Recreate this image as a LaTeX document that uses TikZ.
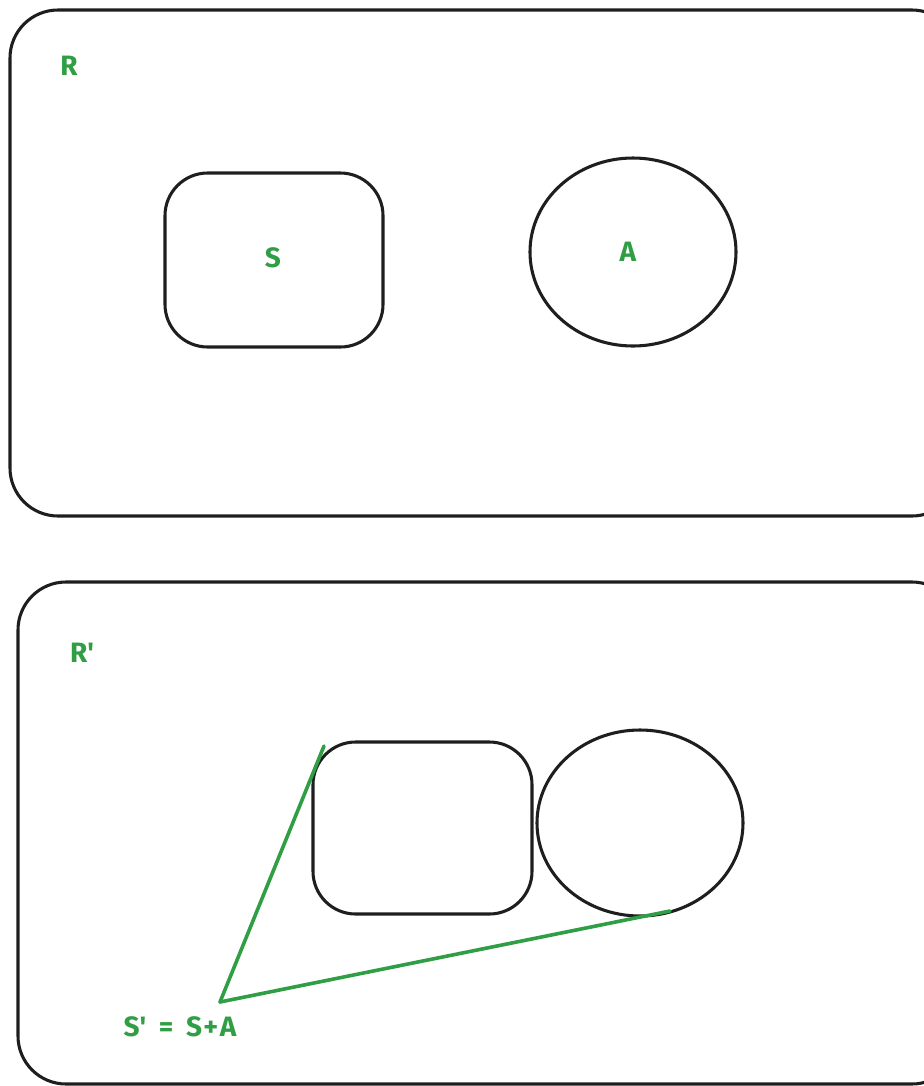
\documentclass[tikz,border=0pt]{standalone}
\usepackage{fontspec}
\setmainfont{Fira Sans}
\definecolor{exgreen}{HTML}{2F9E44}
\definecolor{exblack}{HTML}{1E1E1E}
\begin{document}
\begin{tikzpicture}[x=0.75pt,y=-0.75pt,
  outline/.style={draw=exblack,line width=2.3pt},
  glabel/.style={text=exgreen,font=\fontsize{21}{24}\selectfont\bfseries},
  gline/.style={draw=exgreen,line width=2.7pt,line cap=round}]
\useasboundingbox (0,0) rectangle (924,1086);
\clip (0,0) rectangle (924,1086);
% top region R
\draw[outline,rounded corners=36] (10,10) rectangle (960,516);
\node[glabel] (R) at (69,66) {R};
\draw[outline,rounded corners=32] (165,173) rectangle (383,347);
\node[glabel] (S) at (273,258) {S};
\draw[outline] (633,252) ellipse [x radius=103,y radius=94];
\node[glabel] (A) at (628,252) {A};
% bottom region R'
\draw[outline,rounded corners=36] (18,582) rectangle (960,1084);
\node[glabel] (Rp) at (82,653) {R\textquotesingle};
\draw[outline,rounded corners=32] (313,742) rectangle (532,914);
\coordinate (boxcorner) at (324,746);
\draw[outline] (640,823) ellipse [x radius=103,y radius=93];
\coordinate (circpt) at (670,911);
\coordinate (apex) at (220,1002);
\node[glabel] (Sp) at (180,1027) {S\textquotesingle\hspace{0.45em}=\hspace{0.45em}S\kern0.05em+\kern0.05em A};
\draw[gline] (apex) -- (boxcorner);
\draw[gline] (apex) -- (circpt);
\end{tikzpicture}
\end{document}
